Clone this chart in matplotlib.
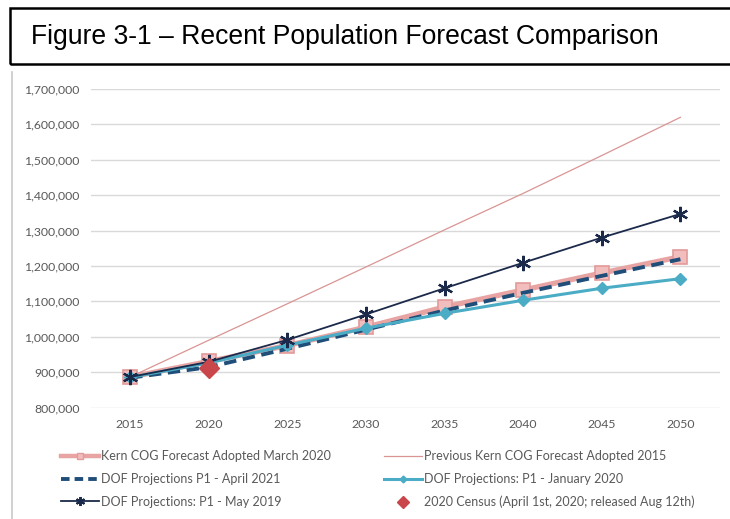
import matplotlib
matplotlib.use("Agg")
import matplotlib.pyplot as plt
from matplotlib.lines import Line2D
from matplotlib.patches import Rectangle

# ---- data -------------------------------------------------------------
years = ["2015", "2020", "2025", "2030", "2035", "2040", "2045", "2050"]

kern_cog_2020 = [886000, 930000, 975000, 1027000, 1084000, 1132000, 1180000, 1226000]
kern_cog_2015 = [886000, 990000, 1093000, 1197000, 1302000, 1405000, 1512000, 1620000]
dof_apr_2021 = [884000, 914000, 966000, 1020000, 1074000, 1124000, 1172000, 1219000]
dof_jan_2020 = [885000, 926000, 976000, 1024000, 1066000, 1103000, 1137000, 1164000]
dof_may_2019 = [886000, 929000, 991000, 1063000, 1137000, 1209000, 1280000, 1347000]
census_2020 = 911000

y_ticks = [800000, 900000, 1000000, 1100000, 1200000, 1300000,
           1400000, 1500000, 1600000, 1700000]

labels = [
    "Kern COG Forecast Adopted March 2020",
    "Previous Kern COG Forecast Adopted 2015",
    "DOF Projections P1 - April 2021",
    "DOF Projections: P1 - January 2020",
    "DOF Projections: P1 - May 2019",
    "2020 Census (April 1st, 2020; released Aug 12th)",
]

# ---- styles -----------------------------------------------------------
PINK_LINE = "#E8A3A3"
PINK_FILL = "#F2BDBD"
PINK_EDGE = "#E39A9A"
ROSE = "#D99594"
DARK_BLUE = "#1F4E79"
TEAL = "#4BACC6"
NAVY = "#1B2A4A"
RED = "#C9474A"
TXT = "#595959"
CHART_FONT = ["Lato", "DejaVu Sans"]

# ---- figure -----------------------------------------------------------
W, H = 730, 519
fig = plt.figure(figsize=(W / 100, H / 100), dpi=100)
fig.patch.set_facecolor("white")

# caption box
fig.patches.append(Rectangle((10 / W, 1 - 64 / H), 740 / W, 56 / H,
                             transform=fig.transFigure, fill=False,
                             edgecolor="black", linewidth=1.8, clip_on=False))
fig.text(31 / W, 1 - 37 / H, "Figure 3-1 \u2013 Recent Population Forecast Comparison",
         family=["Liberation Sans"], fontsize=19.1, color="black",
         ha="left", va="center")

# thin frame line at the left of the chart
fig.add_artist(Line2D([12 / W, 12 / W], [0, 1 - 72 / H],
                      transform=fig.transFigure, color="#C8C8C8", linewidth=1.2))

ax = fig.add_axes([90.7 / W, 1 - 407.5 / H, 629 / W, 318.5 / H])
x = list(range(len(years)))

ax.plot(x, kern_cog_2020, color=PINK_LINE, linewidth=3.8,
        marker="s", markersize=9.5, markerfacecolor=PINK_FILL,
        markeredgecolor=PINK_EDGE, markeredgewidth=1.2,
        solid_joinstyle="miter", zorder=3)
ax.plot(x, kern_cog_2015, color=ROSE, linewidth=0.9, zorder=4)
ax.plot(x, dof_apr_2021, color=DARK_BLUE, linewidth=2.8,
        dashes=(3.2, 1.7), zorder=5)
ax.plot(x, dof_jan_2020, color=TEAL, linewidth=2.2,
        marker="D", markersize=6, markerfacecolor=TEAL,
        markeredgecolor=TEAL, zorder=6)
ax.plot(x, dof_may_2019, color=NAVY, linewidth=1.3,
        marker=(6, 2, 0), markersize=11, markeredgewidth=1.6,
        markeredgecolor=NAVY, zorder=7)
ax.plot([years.index("2020")], [census_2020], linestyle="none",
        marker="D", markersize=10.5, color=RED,
        markeredgecolor=RED, zorder=8)

ax.set_xlim(-0.5, len(years) - 0.5)
ax.set_ylim(y_ticks[0], y_ticks[-1])
ax.set_xticks(x)
ax.set_xticklabels(years)
ax.set_yticks(y_ticks)
ax.set_yticklabels([f"{v:,}" for v in y_ticks])
ax.grid(axis="y", color="#D9D9D9", linewidth=1.0)
ax.set_axisbelow(True)
for s in ax.spines.values():
    s.set_visible(False)
ax.tick_params(axis="both", length=0, colors=TXT, labelsize=8.8)
ax.tick_params(axis="y", pad=8)
ax.tick_params(axis="x", pad=8)
for t in ax.get_xticklabels() + ax.get_yticklabels():
    t.set_family(CHART_FONT)

# legend keys with smaller markers than the plotted series
keys = [
    Line2D([], [], color=PINK_LINE, linewidth=3.2, marker="s", markersize=5,
           markerfacecolor=PINK_FILL, markeredgecolor=PINK_EDGE),
    Line2D([], [], color=ROSE, linewidth=0.9),
    Line2D([], [], color=DARK_BLUE, linewidth=2.8, dashes=(2.2, 1.3)),
    Line2D([], [], color=TEAL, linewidth=2.2, marker="D", markersize=3.5,
           markerfacecolor=TEAL, markeredgecolor=TEAL),
    Line2D([], [], color=NAVY, linewidth=1.3, marker=(6, 2, 0), markersize=6.5,
           markeredgewidth=1.4, markeredgecolor=NAVY),
    Line2D([], [], linestyle="none", marker="D", markersize=6.5, color=RED),
]

leg_kw = dict(frameon=False, labelcolor=TXT, handlelength=3.0,
              handletextpad=0.2, labelspacing=0.85, borderpad=0,
              prop={"family": CHART_FONT, "size": 9.0})
fig.legend([keys[0], keys[2], keys[4]], [labels[0], labels[2], labels[4]],
           loc="upper left", bbox_to_anchor=(55 / W, 1 - 444 / H), **leg_kw)
fig.legend([keys[1], keys[3], keys[5]], [labels[1], labels[3], labels[5]],
           loc="upper left", bbox_to_anchor=(378 / W, 1 - 444 / H), **leg_kw)

fig.savefig("out.png", dpi=100, facecolor="white")
